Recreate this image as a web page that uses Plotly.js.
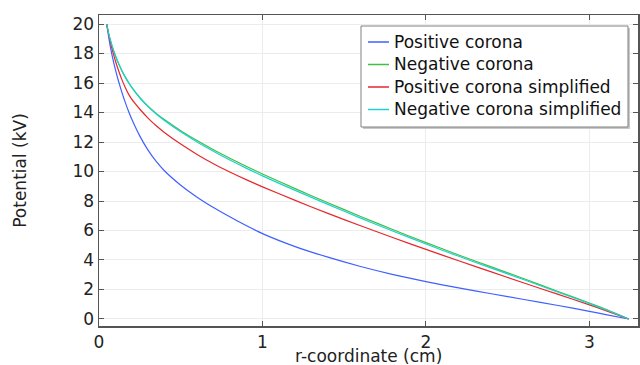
<!DOCTYPE html>
<html>
<head>
<meta charset="utf-8">
<script src="https://cdn.plot.ly/plotly-3.0.1.min.js"></script>
<style>html,body{margin:0;padding:0;background:#fff;}#chart{width:640px;height:365px;}</style>
</head>
<body>
<div id="chart"></div>
<script>
// r-coordinate (cm)
const r = [0.047, 0.06, 0.07, 0.08, 0.09, 0.1, 0.12, 0.14, 0.16, 0.18, 0.2, 0.25, 0.3, 0.35, 0.4, 0.5, 0.6, 0.7, 0.8, 0.9, 1.0, 1.2, 1.4, 1.6, 1.8, 2.0, 2.2, 2.4, 2.6, 2.8, 3.0, 3.1, 3.24];
// Potential (kV)
const positiveCorona = [20.0, 19.05, 18.43, 17.88, 17.38, 16.92, 16.1, 15.36, 14.7, 14.1, 13.56, 12.4, 11.45, 10.68, 10.05, 9.07, 8.26, 7.56, 6.93, 6.34, 5.79, 4.91, 4.19, 3.56, 3.01, 2.53, 2.11, 1.71, 1.32, 0.93, 0.52, 0.3, 0.0];
const negativeCorona = [20.0, 19.3, 18.88, 18.5, 18.16, 17.85, 17.3, 16.82, 16.4, 16.03, 15.7, 15.0, 14.42, 13.94, 13.52, 12.77, 12.1, 11.48, 10.9, 10.35, 9.83, 8.84, 7.88, 6.95, 6.05, 5.18, 4.34, 3.53, 2.73, 1.9, 1.08, 0.66, 0.0];
const positiveSimplified = [20.0, 19.25, 18.75, 18.3, 17.89, 17.51, 16.83, 16.23, 15.71, 15.26, 14.9, 14.22, 13.62, 13.1, 12.65, 11.86, 11.16, 10.53, 9.97, 9.45, 8.96, 8.04, 7.16, 6.32, 5.51, 4.72, 3.95, 3.19, 2.44, 1.7, 0.96, 0.57, 0.0];
const negativeSimplified = [20.0, 19.32, 18.9, 18.53, 18.19, 17.88, 17.33, 16.85, 16.43, 16.06, 15.72, 15.0, 14.4, 13.9, 13.46, 12.69, 12.0, 11.37, 10.78, 10.23, 9.7, 8.72, 7.77, 6.84, 5.95, 5.08, 4.25, 3.45, 2.66, 1.85, 1.04, 0.63, 0.0];

const seriesNames = ["Positive corona", "Negative corona", "Positive corona simplified", "Negative corona simplified"];
const seriesColors = ["#3f60ff", "#3fbf45", "#e6282c", "#1fd0d0"];
const seriesValues = [positiveCorona, negativeCorona, positiveSimplified, negativeSimplified];

const xTicks = [0, 1, 2, 3];
const yTicks = [0, 2, 4, 6, 8, 10, 12, 14, 16, 18, 20];
const xTitle = 'r-coordinate (cm)';
const yTitle = 'Potential (kV)';

const traces = seriesValues.map((v, i) => ({
  x: r, y: v, type: 'scatter', mode: 'lines', name: seriesNames[i],
  line: {color: seriesColors[i], width: 1.2, shape: 'spline', smoothing: 0.6}
}));

// Plot-area geometry (px) used to place the legend box and x title in paper coordinates
const W = 640, H = 365, L = 99, R = 2, T = 15, B = 39;
const pw = W - L - R, ph = H - T - B;
const px = x => (x - L) / pw;
const py = y => (H - B - y) / ph;

const shapes = [
  {type: 'rect', xref: 'paper', yref: 'paper', x0: px(363), x1: px(630), y0: py(129), y1: py(28),
   fillcolor: '#c8c8c8', line: {width: 0}, layer: 'above'},
  {type: 'rect', xref: 'paper', yref: 'paper', x0: px(361), x1: px(628), y0: py(127), y1: py(26),
   fillcolor: '#ffffff', line: {color: '#808080', width: 1}, layer: 'above'}
];
const annotations = [];
const rowY = [42, 64.5, 87, 109.5];
seriesNames.forEach((n, i) => {
  shapes.push({type: 'line', xref: 'paper', yref: 'paper', x0: px(368), x1: px(389), y0: py(rowY[i]), y1: py(rowY[i]),
    line: {color: seriesColors[i], width: 1.5}, layer: 'above'});
  annotations.push({xref: 'paper', yref: 'paper', x: px(392), y: py(rowY[i]), xanchor: 'left', yanchor: 'middle',
    text: n, showarrow: false, font: {family: 'DejaVu Sans', size: 17, color: '#111'}});
});
// x-axis title, placed at the very bottom like the reference
annotations.push({xref: 'paper', yref: 'paper', x: 0.5, y: py(355.5), xanchor: 'center', yanchor: 'middle',
  text: xTitle, showarrow: false, font: {family: 'DejaVu Sans', size: 17, color: '#222'}});

const axisCommon = {
  showline: true, linecolor: '#555', linewidth: 1.5, mirror: 'ticks',
  ticks: 'inside', ticklen: 5, tickcolor: '#555', tickwidth: 1,
  showgrid: true, gridcolor: '#ececec', gridwidth: 1, zeroline: false,
  tickfont: {family: 'DejaVu Sans', size: 17, color: '#222'}
};

const layout = {
  width: W, height: H,
  margin: {l: L, r: R, t: T, b: B},
  paper_bgcolor: '#fff', plot_bgcolor: '#fff',
  font: {family: 'DejaVu Sans', color: '#222'},
  showlegend: false,
  shapes: shapes,
  annotations: annotations,
  xaxis: Object.assign({}, axisCommon, {
    range: [0, 3.297], tickvals: xTicks, ticktext: xTicks.map(String)
  }),
  yaxis: Object.assign({}, axisCommon, {
    range: [-0.475, 20.61], tickvals: yTicks, ticktext: yTicks.map(String),
    title: {text: yTitle, font: {family: 'DejaVu Sans', size: 17, color: '#222'}, standoff: 41}
  })
};

Plotly.newPlot('chart', traces, layout, {staticPlot: true, displayModeBar: false});
</script>
</body>
</html>
